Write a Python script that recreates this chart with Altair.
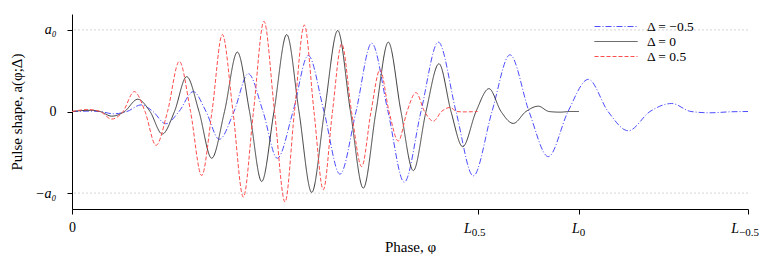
import altair as alt
import pandas as pd

# ---- data (phase in radians, amplitude in units of a0) ----
phi_m05 = [0, 2.23, 3.47, 5.12, 6.82, 8.55, 10.04, 11.61, 13.26, 15.03, 16.61, 18.25,
           20.08, 21.85, 23.67, 25.44, 27.39, 29.28, 31.23, 33.21, 35.20, 37.14, 39.16,
           41.18, 43.25, 45.40, 47.59, 49.73, 52.05, 54.28, 56.64, 59.03, 61.47, 63.99,
           66.43, 68.94, 71.63, 74.32, 76.71, 79.07, 81.55, 83.78]
a_m05 = [0, 0.005, 0, -0.028, 0, 0.081, 0, -0.15, 0, 0.244, 0, -0.341,
         0, 0.463, 0, -0.573, 0, 0.687, 0, -0.768, 0, 0.837, 0,
         -0.866, 0, 0.85, 0, -0.789, 0, 0.695, 0, -0.553, 0, 0.394,
         0, -0.236, 0, 0.098, 0, -0.016, -0.004, 0]

phi_0 = [0, 2.23, 3.47, 4.92, 6.51, 8.14, 9.67, 11.19, 12.70, 14.21, 15.74, 17.31,
         18.90, 20.49, 22.00, 23.51, 25.03, 26.61, 28.13, 29.71, 31.29, 32.93, 34.51,
         36.10, 37.67, 39.20, 40.77, 42.30, 43.87, 45.48, 46.97, 48.42, 50.07, 51.68,
         53.17, 54.69, 56.26, 57.79, 59.11, 60.48, 61.72, 62.83]
a_0 = [0, 0.015, 0, -0.057, 0, 0.15, 0, -0.276, 0, 0.427, 0, -0.573,
       0, 0.728, 0, -0.858, 0, 0.943, 0, -0.992, 0, 0.992, 0,
       -0.939, 0, 0.85, 0, -0.724, 0, 0.585, 0, -0.431, 0, 0.28,
       0, -0.146, 0, 0.065, 0, -0.008, 0, 0]

phi_p05 = [0, 1.98, 3.47, 4.92, 6.32, 7.72, 9.05, 10.41, 11.84, 13.30, 14.69, 16.07,
           17.35, 18.63, 19.95, 21.23, 22.49, 23.79, 25.10, 26.40, 27.57, 28.79, 29.99,
           31.14, 32.28, 33.42, 34.64, 35.90, 37.06, 38.17, 39.29, 40.44, 41.52, 42.63,
           43.69, 44.78, 45.79, 46.84, 47.71, 48.46, 50.27]
a_p05 = [0, 0.024, 0, -0.093, 0, 0.244, 0, -0.415, 0, 0.614, 0, -0.785,
         0, 0.943, 0, -1.049, 0, 1.106, 0, -1.11, 0, 1.06, 0,
         -0.959, 0, 0.829, 0, -0.675, 0, 0.512, 0, -0.362, 0, 0.232,
         0, -0.118, 0, 0.049, 0, -0.005, 0]

series_labels = ["Δ = −0.5", "Δ = 0", "Δ = 0.5"]
series_colors = ["#4d4dff", "#3c3c3c", "#ff4d4d"]
series_dashes = [[6, 2, 1, 2], [1, 0], [4, 2]]

x_tick_values = [0, 50.265, 62.832, 83.776]
x_tick_subs = ["", "0.5", "0", "−0.5"]
y_tick_values = [-1, 0, 1]
y_tick_labels = ["−a₀", "0", "a₀"]
grid_values = [-1, 1]

# ---- build tables ----
rows = []
for lab, xs, ys in zip(series_labels, [phi_m05, phi_0, phi_p05], [a_m05, a_0, a_p05]):
    for xv, yv in zip(xs, ys):
        rows.append({"series": lab, "phi": xv, "a": yv})
df = pd.DataFrame(rows)

W, H = 676, 195
FONT = "Liberation Serif"
PX_PER_UNIT = W / x_tick_values[-1]

xscale = alt.Scale(domain=[0, x_tick_values[-1]], nice=False, zero=False)
yscale = alt.Scale(domain=[-1.195, 1.195], nice=False, zero=False)

ylabel_expr = " : ".join(
    f"datum.value == {v} ? '{t}'" for v, t in zip(y_tick_values, y_tick_labels)
) + " : ''"

x_axis = alt.Axis(
    values=x_tick_values, labelExpr="datum.value == 0 ? '0' : ''",
    title="Phase, φ", grid=False, domainColor="black", domainWidth=1,
    tickColor="black", tickSize=5, tickWidth=1, labelFont=FONT, labelFontSize=14,
    labelColor="black", labelPadding=6, labelFlush=False, labelOverlap=False,
    titleFont=FONT, titleFontSize=15, titleFontWeight="normal", titleColor="black",
    titleY=42, titleBaseline="alphabetic",
)
y_axis = alt.Axis(
    values=y_tick_values, labelExpr=ylabel_expr,
    labelFontStyle={"condition": {"test": "datum.value == 0", "value": "normal"}, "value": "italic"},
    title="Pulse shape, a(φ;Δ)", grid=False, domainColor="black", domainWidth=1,
    tickColor="black", tickSize=5, tickWidth=1, labelFont=FONT, labelFontSize=14,
    labelColor="black", labelPadding=11, labelFlush=False, labelOverlap=False,
    titleFont=FONT, titleFontSize=15, titleFontWeight="normal", titleColor="black",
    titleX=-56, titleY=H / 2, titleAngle=270, titleAlign="center", titleBaseline="middle",
)

legend = alt.Legend(
    title=None, orient="none", legendX=522, legendY=5, symbolType="stroke",
    symbolSize=1849, symbolStrokeWidth=1, clipHeight=15, rowPadding=0,
    labelFont=FONT, labelFontSize=13.5, labelOffset=9, labelColor="black", padding=0,
)

grid = alt.Chart(pd.DataFrame({"g": grid_values})).mark_rule(
    color="#c8c8c8", strokeDash=[2, 2], strokeWidth=0.8
).encode(y=alt.Y("g:Q", scale=yscale, axis=y_axis))

lines = alt.Chart(df).mark_line(strokeWidth=1, interpolate="monotone").encode(
    x=alt.X("phi:Q", scale=xscale, axis=x_axis),
    y=alt.Y("a:Q", scale=yscale, axis=y_axis),
    color=alt.Color("series:N", scale=alt.Scale(domain=series_labels, range=series_colors), legend=legend),
    strokeDash=alt.StrokeDash("series:N", scale=alt.Scale(domain=series_labels, range=series_dashes), legend=legend),
)

lab_df = pd.DataFrame({"x": x_tick_values[1:], "sub": x_tick_subs[1:]})
base_lab = alt.Chart(lab_df).transform_calculate(
    xc=f"datum.x + (8 - length(datum.sub) * 6.5) / 2 / {PX_PER_UNIT}"
)
l_text = base_lab.mark_text(
    align="right", baseline="middle", font=FONT, fontStyle="italic", fontSize=14, color="black"
).encode(x=alt.X("xc:Q", scale=xscale, axis=x_axis), y=alt.value(H + 20), text=alt.value("L"))
sub_text = base_lab.mark_text(
    align="left", baseline="middle", font=FONT, fontSize=11, color="black"
).encode(x=alt.X("xc:Q", scale=xscale, axis=x_axis), y=alt.value(H + 24), text="sub:N")

chart = alt.layer(grid, lines, l_text, sub_text).properties(
    width=W, height=H,
    padding={"left": 64, "top": 6, "right": 25, "bottom": 45},
    autosize=alt.AutoSizeParams(type="none"),
).configure_view(stroke=None)

chart.save("out.html", embed_options={"renderer": "svg", "actions": False})
